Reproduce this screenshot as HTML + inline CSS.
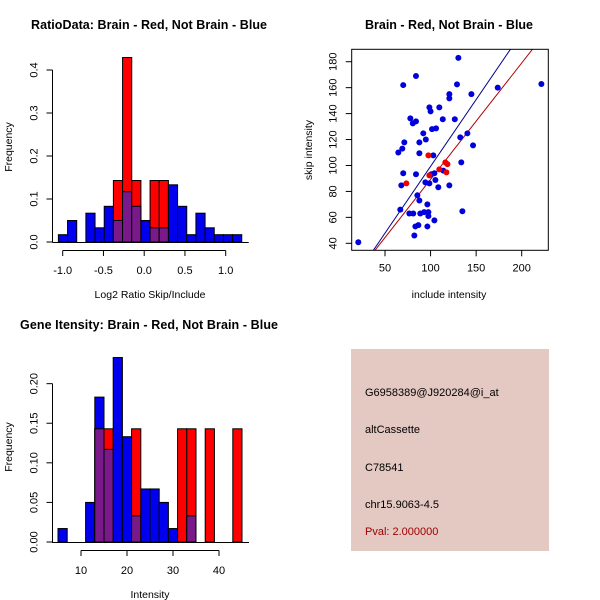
<!DOCTYPE html>
<html><head><meta charset="utf-8"><style>
html,body{margin:0;padding:0;background:#fff}
svg{display:block;font-family:"Liberation Sans",sans-serif}
</style></head><body>
<svg id="s" width="600" height="600" viewBox="0 0 600 600">
<rect x="351" y="349" width="198" height="202" fill="#e4c8c2"/>
<text x="365" y="396" font-size="11" fill="#000">G6958389@J920284@i_at</text>
<text x="365" y="433" font-size="11" fill="#000">altCassette</text>
<text x="365" y="471" font-size="11" fill="#000">C78541</text>
<text x="365" y="508" font-size="11" fill="#000">chr15.9063-4.5</text>
<text x="365" y="535" font-size="11" fill="#a00000">Pval: 2.000000</text>
</svg>
<script>
// Ratio histogram data
const ratioBinStart = -1.053, ratioBinWidth = 0.1125;
const ratioBlue = [0.017,0.05,0,0.067,0.033,0.083,0.05,0.117,0.083,0.05,0.033,0.033,0.133,0.083,0.017,0.067,0.033,0.017,0.017,0.017];
const ratioRed  = [0,0,0,0,0,0,0.143,0.429,0.143,0,0.143,0.143,0,0,0,0,0,0,0,0];
const ratioXTicks = [-1.0,-0.5,0.0,0.5,1.0];
const ratioXLabels = ["-1.0","-0.5","0.0","0.5","1.0"];
const ratioYTicks = [0,0.1,0.2,0.3,0.4];
const ratioYLabels = ["0.0","0.1","0.2","0.3","0.4"];
// Intensity histogram data
const intBinStart = 5, intBinWidth = 2;
const intBlue = [0.017,0,0,0.05,0.183,0.117,0.233,0.133,0.033,0.067,0.067,0.05,0.017,0,0.033,0,0,0,0,0];
const intRed  = [0,0,0,0,0.143,0.143,0,0,0.143,0,0,0,0,0.143,0.143,0,0.143,0,0,0.143];
const intXTicks = [10,20,30,40];
const intXLabels = ["10","20","30","40"];
const intYTicks = [0,0.05,0.1,0.15,0.2];
const intYLabels = ["0.00","0.05","0.10","0.15","0.20"];
// Scatter data
const blueX = [20.7,70,84,130.5,129,173.7,221.6,120.6,144.8,120.6,98.7,100,109.6,77.8,84,80.5,113.4,126.6,92,101.6,106,140.4,132.6,71.2,87.7,94.8,69,64.6,146.6,87.7,103,133.7,70,84,100.8,104.2,114,105.3,94.3,98.7,67.9,108.5,120.6,85.5,87.7,96.5,66.8,76.7,81,88.7,93,97.6,97.6,104.2,134.9,83.3,86.6,96.5,82.2];
const blueY = [40.8,162,169,183,162.5,160,162.8,155,155,151.7,144.8,141.7,144.8,136.3,134,132.5,135.6,135.6,124.8,128,128.6,124.8,121.7,117.8,117.8,120,113,110,115.5,109.4,107.8,102.4,94,93.2,93.2,94,96,88.8,87,86.2,84.7,83.2,84.7,77,73,70,66,63,63,63,64,64,61,57.7,64.7,53,54,53,46];
const redX = [73.4,97.6,98.7,109.6,116.2,118.5,117.4];
const redY = [86.2,107.8,92.4,97,102.4,101,94.7];
const blueFit = [1.03,-3.7];   // slope, intercept
const redFit = [0.897,-0.4];
const scXTicks = [50,100,150,200];
const scYTicks = [40,60,80,100,120,140,160,180];

const NS="http://www.w3.org/2000/svg";
const svg=document.getElementById('s');
function mk(tag,attrs,parent){const e=document.createElementNS(NS,tag);for(const k in attrs)e.setAttribute(k,attrs[k]);(parent||svg).appendChild(e);return e;}
function txt(x,y,s,size,attrs){const e=mk('text',Object.assign({x:x,y:y,'font-size':size,'text-anchor':'middle'},attrs||{}));e.textContent=s;return e;}

function hist(opt){
  const g=mk('g',{});
  
  
  const sx=v=>opt.x0px+(v-opt.x0)*opt.xs, sy=v=>opt.base-v*opt.ys;
  for(let i=0;i<opt.blue.length;i++){
    const a=opt.binStart+i*opt.binW, x=sx(a), w=opt.binW*opt.xs;
    const b=opt.blue[i], r=opt.red[i];
    if(b>0){const e=mk('rect',{x:x,y:sy(b),width:w,height:b*opt.ys,fill:'#0000ee',stroke:'#000','stroke-width':1},g);
      }
    if(r>0){const e=mk('rect',{x:x,y:sy(r),width:w,height:r*opt.ys,fill:'#ff0000',stroke:'#000','stroke-width':1},g);
      }
    const m=Math.min(b,r);
    if(m>0){const e=mk('rect',{x:x,y:sy(m),width:w,height:m*opt.ys,fill:'#7a1a8a',stroke:'#000','stroke-width':1},g);
      }
  }
  const ax=mk('g',{stroke:'#000','stroke-width':1},g);
  
  mk('line',{x1:sx(opt.xt[0]),x2:sx(opt.xt[opt.xt.length-1]),y1:opt.base+8.5,y2:opt.base+8.5},ax);
  opt.xt.forEach((v,i)=>{mk('line',{x1:sx(v),x2:sx(v),y1:opt.base+8.5,y2:opt.base+14},ax);
    const t=txt(sx(v),opt.base+32,opt.xl[i],11,{stroke:'none'});ax.appendChild(t);});
  mk('line',{x1:sx(opt.binStart)-6,x2:sx(opt.binStart+opt.blue.length*opt.binW)+7,y1:opt.base+0.5,y2:opt.base+0.5,stroke:'#000'},g);
  const ay=mk('g',{stroke:'#000'},g);
  
  mk('line',{x1:opt.yax,x2:opt.yax,y1:sy(opt.yt[0]),y2:sy(opt.yt[opt.yt.length-1])},ay);
  opt.yt.forEach((v,i)=>{mk('line',{x1:opt.yax,x2:opt.yax-6,y1:sy(v),y2:sy(v)},ay);
    const t=txt(opt.yax-15,sy(v),opt.yl[i],11,{stroke:'none',transform:`rotate(-90 ${opt.yax-15} ${sy(v)})`});ay.appendChild(t);});
}
hist({name:'ratio-histogram',blue:ratioBlue,red:ratioRed,binStart:ratioBinStart,binW:ratioBinWidth,x0:-1,x0px:62.7,xs:81.5,base:242,ys:430,xt:ratioXTicks,xl:ratioXLabels,yt:ratioYTicks,yl:ratioYLabels,yax:52.5});
hist({name:'intensity-histogram',blue:intBlue,red:intRed,binStart:intBinStart,binW:intBinWidth,x0:10,x0px:81,xs:4.6,base:542,ys:791.7,xt:intXTicks,xl:intXLabels,yt:intYTicks,yl:intYLabels,yax:52.5});

let t;
t=txt(149,29,'RatioData: Brain - Red, Not Brain - Blue',12.5,{'font-weight':'bold',textLength:236});

t=txt(449,29,'Brain - Red, Not Brain - Blue',12.5,{'font-weight':'bold',textLength:168});

t=txt(149,329,'Gene Itensity: Brain - Red, Not Brain - Blue',12.5,{'font-weight':'bold',textLength:258});

t=txt(150,298,'Log2 Ratio Skip/Include',10.5);

t=txt(150,598,'Intensity',10.5);

t=txt(12,147,'Frequency',10.5,{transform:'rotate(-90 12 147)'});

t=txt(12,447,'Frequency',10.5,{transform:'rotate(-90 12 447)'});

t=txt(449,298,'include intensity',10.5);

t=txt(312,150,'skip intensity',10.5,{transform:'rotate(-90 312 150)'});


const L=351.7,R=548.3,T=49.3,B=250.3;
const sxs=v=>385+(v-50)*0.9113, sys=v=>243.3-(v-40)*1.297;
const sg=mk('g',{});


const defs=mk('defs',{},sg);
const cp=mk('clipPath',{id:'clip'},defs);
mk('rect',{x:L,y:T,width:R-L,height:B-T},cp);
function fit(f,col,name){
  const x1=0,x2=260;
  const e=mk('line',{x1:sxs(x1),y1:sys(f[0]*x1+f[1]),x2:sxs(x2),y2:sys(f[0]*x2+f[1]),stroke:col,'stroke-width':1,'clip-path':'url(#clip)'},sg);
  
}
fit(blueFit,'#00008b','blue-fit-line');
fit(redFit,'#b00000','red-fit-line');
blueX.forEach((x,i)=>{const e=mk('circle',{cx:sxs(x),cy:sys(blueY[i]),r:3,fill:'#0000dd'},sg);
  });
redX.forEach((x,i)=>{const e=mk('circle',{cx:sxs(x),cy:sys(redY[i]),r:3,fill:'#ee0000'},sg);
  });
mk('rect',{x:L,y:T,width:R-L,height:B-T,fill:'none',stroke:'#000'},sg);
const sxa=mk('g',{stroke:'#000'},sg);

scXTicks.forEach(v=>{mk('line',{x1:sxs(v),x2:sxs(v),y1:B,y2:B+6},sxa);
  sxa.appendChild(txt(sxs(v),B+21,String(v),11,{stroke:'none'}));});
const sya=mk('g',{stroke:'#000'},sg);

scYTicks.forEach(v=>{mk('line',{x1:L,x2:L-6,y1:sys(v),y2:sys(v)},sya);
  sya.appendChild(txt(L-15,sys(v),String(v),11,{stroke:'none',transform:`rotate(-90 ${L-15} ${sys(v)})`}));});
</script>
</body></html>
